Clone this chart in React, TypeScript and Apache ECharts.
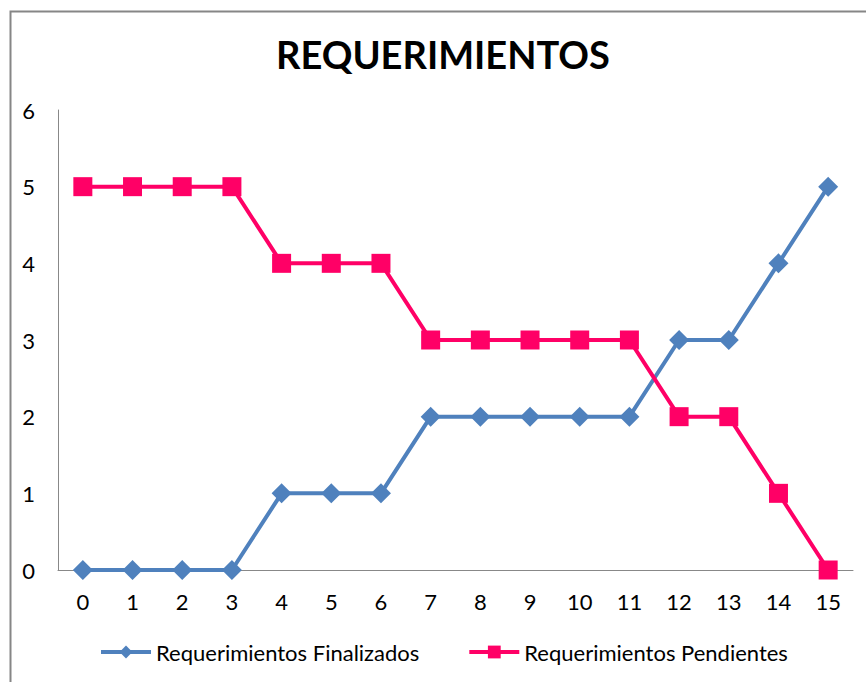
import React, { useEffect, useRef } from "react";
import * as echarts from "echarts";

const categories = ["0", "1", "2", "3", "4", "5", "6", "7", "8", "9", "10", "11", "12", "13", "14", "15"];
const finalizados = [0, 0, 0, 0, 1, 1, 1, 2, 2, 2, 2, 2, 3, 3, 4, 5];
const pendientes = [5, 5, 5, 5, 4, 4, 4, 3, 3, 3, 3, 3, 2, 2, 1, 0];
const seriesNames = ["Requerimientos Finalizados", "Requerimientos Pendientes"];
const title = "REQUERIMIENTOS";

const FONT = "Lato, 'Open Sans', sans-serif";

export default function App() {
  const ref = useRef<HTMLDivElement>(null);
  useEffect(() => {
    if (!ref.current) return;
    const chart = echarts.init(ref.current, null, { renderer: "svg" });
    chart.setOption({
      animation: false,
      backgroundColor: "#ffffff",
      textStyle: { fontFamily: FONT },
      title: {
        text: title,
        left: 271,
        top: 30,
        textStyle: { fontFamily: FONT, fontSize: 38, fontWeight: "bold", color: "#000" },
      },
      graphic: [
        {
          type: "rect",
          left: 8,
          top: 9,
          shape: { width: 900, height: 700 },
          style: { fill: "none", stroke: "#868686", lineWidth: 2 },
          silent: true,
        },
      ],
      grid: { left: 58, right: 13, top: 110, bottom: 112 },
      legend: {
        bottom: 19,
        left: 99,
        padding: 0,
        itemWidth: 50,
        itemHeight: 16,
        itemGap: 48,
        lineStyle: { width: 4 },
        textStyle: { fontFamily: FONT, fontSize: 22, color: "#000" },
        data: seriesNames,
      },
      xAxis: {
        type: "category",
        data: categories,
        boundaryGap: true,
        axisLine: { lineStyle: { color: "#888888", width: 1 } },
        axisTick: { show: false },
        axisLabel: { fontSize: 22, color: "#000", margin: 20, fontFamily: FONT },
        splitLine: { show: false },
      },
      yAxis: {
        type: "value",
        min: 0,
        max: 6,
        interval: 1,
        axisLine: { show: true, lineStyle: { color: "#888888", width: 1 } },
        axisTick: { show: false },
        axisLabel: { fontSize: 22, color: "#000", margin: 23, fontFamily: FONT },
        splitLine: { show: false },
      },
      series: [
        {
          name: seriesNames[0],
          type: "line",
          data: finalizados,
          symbol: "diamond",
          symbolSize: 20,
          lineStyle: { color: "#4F81BD", width: 4 },
          itemStyle: { color: "#4F81BD" },
          emphasis: { disabled: true },
        },
        {
          name: seriesNames[1],
          type: "line",
          data: pendientes,
          symbol: "rect",
          symbolSize: 19,
          lineStyle: { color: "#FF0066", width: 4 },
          itemStyle: { color: "#FF0066" },
          emphasis: { disabled: true },
        },
      ],
    });
    return () => chart.dispose();
  }, []);
  return <div ref={ref} style={{ position: "absolute", left: 0, top: 0, width: 866, height: 682 }} />;
}
